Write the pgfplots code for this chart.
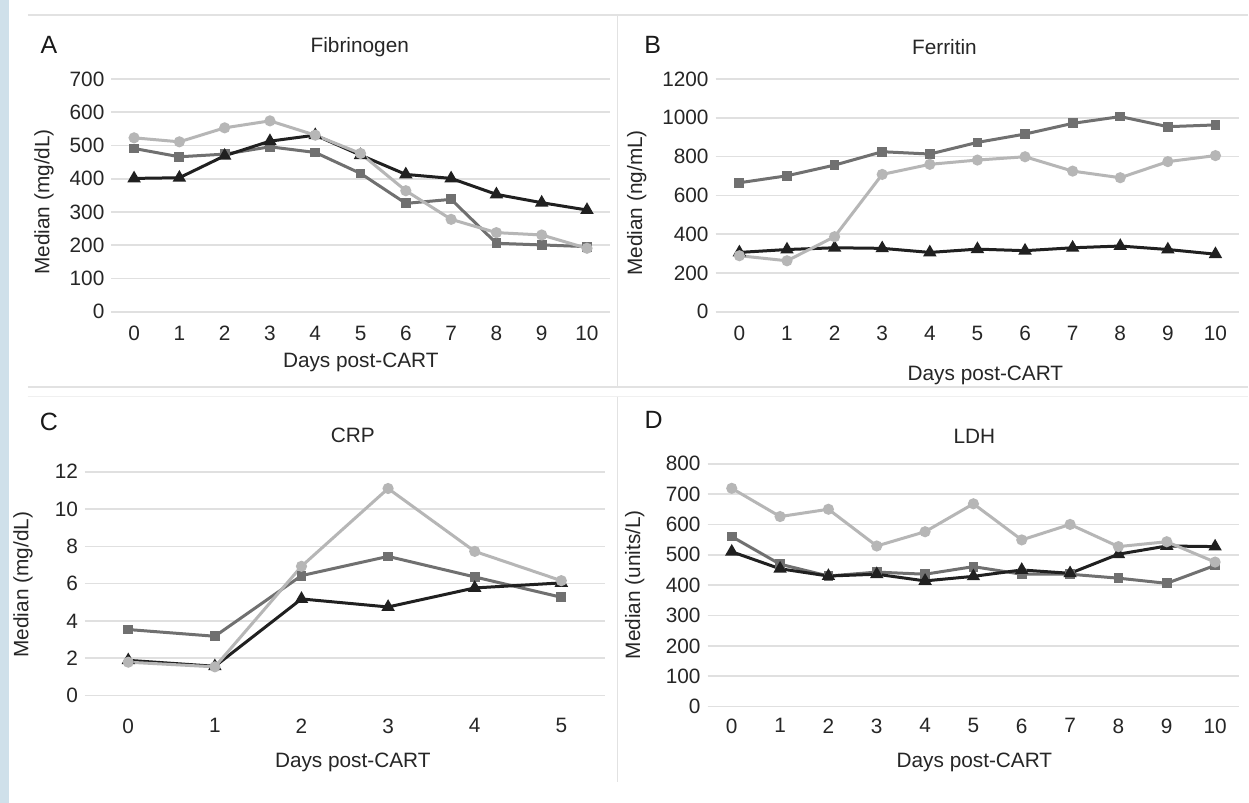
\documentclass[border=0pt]{standalone}
\usepackage{fontspec}
\setmainfont{Liberation Sans}
\usepackage{pgfplots}
\pgfplotsset{compat=1.18}

\definecolor{cBlack}{RGB}{32,32,32}
\definecolor{cDark}{RGB}{112,112,112}
\definecolor{cLight}{RGB}{182,182,182}
\definecolor{cGrid}{RGB}{224,224,224}
\definecolor{cFrame}{RGB}{226,226,226}
\definecolor{cStrip}{RGB}{207,224,234}

\newcommand{\fs}{\fontsize{10.4}{12}\selectfont}

\pgfplotsset{
  panel/.style={
    scale only axis,
    enlargelimits=false,
    clip=false,
    axis line style={draw=none},
    tick style={draw=none},
    major tick length=0pt,
    ymajorgrids=true,
    grid style={line width=0.8pt,color=cGrid},
    /pgf/number format/assume math mode=true,
    /pgf/number format/1000 sep={},
    ticklabel style={font=\fs,text=black!85},
    every axis plot/.append style={line width=1.5pt},
  },
  sBlack/.style={color=cBlack,mark=triangle*,mark size=2.4pt},
  sDark/.style={color=cDark,mark=square*,mark size=1.7pt},
  sLight/.style={color=cLight,mark=*,mark size=2pt},
}

\begin{document}
\begin{tikzpicture}[x=0.5pt,y=0.5pt]
% page and frame (coordinates in reference pixels, y measured from bottom)
\fill[white] (0,0) rectangle (1249,803);
\fill[cStrip] (0,0) rectangle (9,803);
\draw[cFrame,line width=0.75pt] (28,803-15) -- (1249,803-15);
\draw[cFrame,line width=0.75pt] (28,803-387) -- (1249,803-387);
\draw[cFrame!50,line width=0.6pt] (28,803-397) -- (1249,803-397);
\draw[cFrame,line width=0.75pt] (618,803-15) -- (618,803-387);
\draw[cFrame,line width=0.75pt] (618,803-397) -- (618,803-782);

% A: Fibrinogen
\begin{axis}[panel,
  at={(55.75pt,245.5pt)}, anchor=south west,
  width=249.25pt, height=116.5pt,
  xmin=-0.5, xmax=10.5, ymin=0, ymax=700,
  xtick={0,...,10}, ytick={0,100,...,700},
  xticklabel style={yshift=-3.5pt},
]
\addplot[sDark] coordinates {(0,491) (1,466) (2,474) (3,496) (4,479) (5,416) (6,326) (7,338) (8,206) (9,201) (10,196)};
\addplot[sBlack] coordinates {(0,401) (1,403) (2,469) (3,513) (4,531) (5,471) (6,413) (7,401) (8,353) (9,328) (10,306)};
\addplot[sLight] coordinates {(0,523) (1,511) (2,553) (3,574) (4,531) (5,476) (6,364) (7,278) (8,238) (9,231) (10,191)};
\end{axis}

% B: Ferritin
\begin{axis}[panel,
  at={(358pt,245.5pt)}, anchor=south west,
  width=262pt, height=116.5pt,
  xmin=-0.5, xmax=10.5, ymin=0, ymax=1200,
  xtick={0,...,10}, ytick={0,200,...,1200},
  xticklabel style={yshift=-3.5pt},
]
\addplot[sDark] coordinates {(0,665) (1,701) (2,756) (3,825) (4,813) (5,873) (6,916) (7,971) (8,1006) (9,954) (10,963)};
\addplot[sBlack] coordinates {(0,306) (1,321) (2,330) (3,327) (4,306) (5,323) (6,315) (7,330) (8,339) (9,321) (10,297)};
\addplot[sLight] coordinates {(0,289) (1,263) (2,387) (3,708) (4,760) (5,782) (6,799) (7,725) (8,691) (9,774) (10,805)};
\end{axis}

% C: CRP
\begin{axis}[panel,
  at={(42.5pt,53.5pt)}, anchor=south west,
  width=260pt, height=112pt,
  xmin=-0.5, xmax=5.5, ymin=0, ymax=12,
  xtick={0,...,5}, ytick={0,2,...,12},
  xticklabel style={yshift=-8pt},
]
\addplot[sDark] coordinates {(0,3.54) (1,3.18) (2,6.43) (3,7.46) (4,6.36) (5,5.27)};
\addplot[sBlack] coordinates {(0,1.89) (1,1.57) (2,5.18) (3,4.75) (4,5.77) (5,6.04)};
\addplot[sLight] coordinates {(0,1.79) (1,1.54) (2,6.93) (3,11.1) (4,7.73) (5,6.16)};
\end{axis}

% D: LDH
\begin{axis}[panel,
  at={(354pt,48pt)}, anchor=south west,
  width=266pt, height=121.5pt,
  xmin=-0.5, xmax=10.5, ymin=0, ymax=800,
  xtick={0,...,10}, ytick={0,100,...,800},
  xticklabel style={yshift=-2.5pt},
]
\addplot[sDark] coordinates {(0,560) (1,469) (2,430) (3,443) (4,436) (5,461) (6,436) (7,436) (8,423) (9,406) (10,465)};
\addplot[sBlack] coordinates {(0,510) (1,454) (2,430) (3,436) (4,414) (5,429) (6,450) (7,439) (8,502) (9,529) (10,527)};
\addplot[sLight] coordinates {(0,719) (1,626) (2,650) (3,529) (4,576) (5,668) (6,549) (7,600) (8,527) (9,543) (10,476)};
\end{axis}

% panel letters
\begin{scope}[every node/.style={font=\fontsize{12.5}{14}\selectfont,text=black!90}]
\node at (49,803-45) {A};
\node at (653,803-45) {B};
\node at (49,803-422) {C};
\node at (654,803-420) {D};
\end{scope}

% titles and axis labels
\begin{scope}[every node/.style={font=\fs,text=black!85}]
\node at (360,803-47) {Fibrinogen};
\node at (945,803-47) {Ferritin};
\node at (353,803-436) {CRP};
\node at (975,803-437) {LDH};
\node at (361,803-363) {Days post-CART};
\node at (986,803-376) {Days post-CART};
\node at (353,803-763) {Days post-CART};
\node at (975,803-763) {Days post-CART};
\node[rotate=90] at (44,803-202) {Median (mg/dL)};
\node[rotate=90] at (637,803-203) {Median (ng/mL)};
\node[rotate=90] at (23,803-585) {Median (mg/dL)};
\node[rotate=90] at (635,803-585) {Median (units/L)};
\end{scope}
\end{tikzpicture}
\end{document}
